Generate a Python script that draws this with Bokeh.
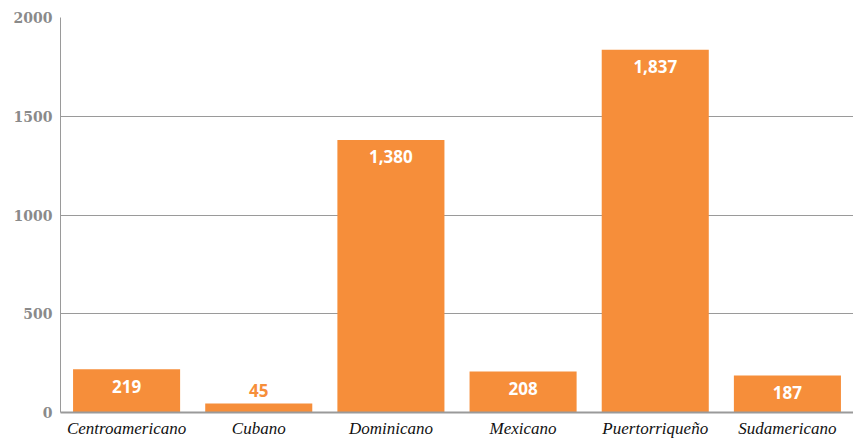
from bokeh.plotting import figure
from bokeh.models import ColumnDataSource, FixedTicker, Range1d, FactorRange
from bokeh.core.properties import value
from bokeh.embed import file_html
from bokeh.resources import INLINE

categories = ["Centroamericano", "Cubano", "Dominicano", "Mexicano", "Puertorriqueño", "Sudamericano"]
counts = [219, 45, 1380, 208, 1837, 187]
y_ticks = [0, 500, 1000, 1500, 2000]

labels = ["{:,}".format(v) for v in counts]
inside = [v >= 100 for v in counts]

src = ColumnDataSource(dict(cat=categories, val=counts, lab=labels))
src_in = ColumnDataSource(dict(
    cat=[c for c, i in zip(categories, inside) if i],
    val=[v for v, i in zip(counts, inside) if i],
    lab=[l for l, i in zip(labels, inside) if i]))
src_out = ColumnDataSource(dict(
    cat=[c for c, i in zip(categories, inside) if not i],
    val=[v for v, i in zip(counts, inside) if not i],
    lab=[l for l, i in zip(labels, inside) if not i]))

ORANGE = "#F68E3A"
GRAY = "#9a9a9a"

p = figure(x_range=FactorRange(*categories, range_padding=0), y_range=Range1d(0, 2000),
           width=853, height=440, output_backend="svg", toolbar_location=None,
           min_border_left=60, min_border_right=0, min_border_top=17, min_border_bottom=26)
p.outline_line_color = None
p.background_fill_color = "white"

p.vbar(x="cat", top="val", width=0.81, source=src, color=ORANGE, line_color=None)

p.text(x="cat", y="val", text="lab", source=src_in, text_color="white",
       text_font=value("Open Sans"), text_font_style="bold", text_font_size="17px",
       text_align="center", text_baseline="middle", y_offset=17)
p.text(x="cat", y="val", text="lab", source=src_out, text_color=ORANGE,
       text_font=value("Open Sans"), text_font_style="bold", text_font_size="17px",
       text_align="center", text_baseline="middle", y_offset=-13)

p.xgrid.grid_line_color = None
p.ygrid.grid_line_color = GRAY
p.ygrid.grid_line_width = 1
p.yaxis.ticker = FixedTicker(ticks=y_ticks)

p.yaxis.axis_line_color = GRAY
p.yaxis.major_tick_line_color = None
p.yaxis.minor_tick_line_color = None
p.yaxis.major_tick_out = 0
p.yaxis.major_tick_in = 0
p.yaxis.major_label_text_font = "DejaVu Serif"
p.yaxis.major_label_text_font_style = "bold"
p.yaxis.major_label_text_font_size = "14px"
p.yaxis.major_label_text_color = "#8a8a8a"
p.yaxis.major_label_standoff = 8

p.xaxis.axis_line_color = GRAY
p.xaxis.axis_line_width = 2
p.xaxis.major_tick_line_color = None
p.xaxis.minor_tick_line_color = None
p.xaxis.major_tick_out = 0
p.xaxis.major_tick_in = 0
p.xaxis.major_label_text_font = "Liberation Serif"
p.xaxis.major_label_text_font_style = "italic"
p.xaxis.major_label_text_font_size = "17px"
p.xaxis.major_label_text_color = "#111111"
p.xaxis.major_label_standoff = 6

open("out.html", "w").write(file_html(p, INLINE))
